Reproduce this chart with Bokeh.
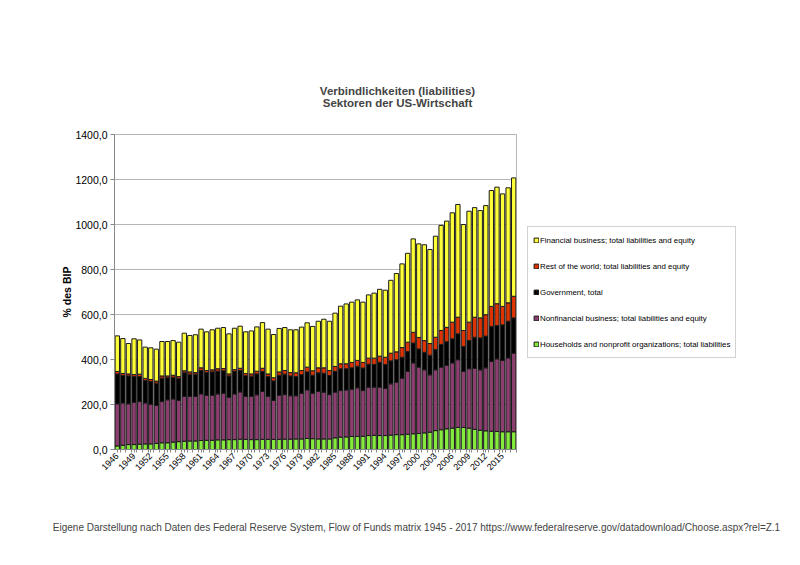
from bokeh.plotting import figure
from bokeh.models import (Range1d, FixedTicker, CustomJSTickFormatter, Legend,
                          LegendItem, Label, ColumnDataSource)
from bokeh.embed import file_html
from bokeh.resources import INLINE
import math

years = list(range(1946, 2018))

households = [16, 19, 22, 22, 24, 25, 25, 27, 30, 30, 33, 35, 37, 38, 38, 40, 41, 41, 43, 43,
              44, 44, 46, 45, 44, 44, 45, 45, 45, 45, 46, 46, 47, 47, 49, 48, 47, 47, 47, 52,
              55, 56, 58, 58, 59, 62, 63, 62, 62, 64, 66, 66, 68, 70, 71, 74, 77, 84, 88, 92,
              95, 98, 98, 95, 90, 86, 83, 81, 80, 79, 79, 79]
nonfinancial = [187, 188, 181, 188, 189, 182, 176, 169, 183, 191, 192, 183, 199, 198, 198, 207, 199, 199, 204, 207,
                188, 203, 210, 191, 192, 199, 213, 191, 173, 195, 198, 193, 192, 203, 216, 202, 211, 208, 197, 203,
                207, 209, 210, 216, 203, 215, 214, 215, 209, 228, 233, 251, 279, 315, 295, 280, 255, 270, 278, 282,
                290, 301, 249, 264, 271, 268, 280, 310, 323, 317, 328, 349]
government = [133, 122, 124, 114, 111, 100, 101, 99, 104, 98, 96, 98, 105, 99, 99, 104, 102, 105, 101, 100,
              95, 100, 95, 92, 90, 93, 89, 88, 87, 90, 91, 88, 85, 83, 80, 80, 83, 84, 85, 92,
              97, 94, 95, 96, 100, 102, 101, 110, 107, 102, 100, 93, 88, 88, 81, 78, 87, 90, 101, 105,
              107, 115, 111, 125, 138, 142, 141, 156, 148, 158, 163, 157]
rest_of_world = [11, 9, 9, 9, 11, 9, 9, 9, 10, 8, 9, 8, 9, 10, 7, 12, 9, 9, 11, 10,
                 9, 8, 10, 10, 10, 12, 14, 12, 14, 15, 16, 15, 17, 18, 21, 20, 22, 24, 22, 22,
                 22, 22, 24, 26, 25, 27, 28, 28, 32, 34, 35, 43, 42, 48, 51, 52, 52, 55, 62, 64,
                 74, 74, 71, 82, 89, 89, 95, 89, 97, 82, 82, 96]
financial = [158, 155, 135, 159, 152, 139, 141, 142, 153, 153, 154, 153, 167, 162, 168, 172, 172, 178, 180, 182,
             178, 184, 187, 185, 191, 197, 203, 199, 192, 193, 191, 190, 191, 193, 197, 197, 207, 216, 219, 237,
             256, 266, 268, 269, 268, 281, 289, 297, 298, 324, 348, 372, 395, 415, 416, 426, 418, 449, 467, 472,
             486, 501, 471, 493, 487, 477, 485, 515, 518, 500, 511, 526]

keys = ["households", "nonfinancial", "government", "rest_of_world", "financial"]
labels = ["Households and nonprofit organizations; total liabilities",
          "Nonfinancial business; total liabilities and equity",
          "Government, total",
          "Rest of the world; total liabilities and equity",
          "Financial business; total liabilities and equity"]
colors = ["#84ea3b", "#8b3e6f", "#000000", "#dd3300", "#ffff38"]
tick_years = years[::3]

src = ColumnDataSource(dict(year=years, households=households, nonfinancial=nonfinancial,
                            government=government, rest_of_world=rest_of_world,
                            financial=financial))

FONT = "Liberation Sans"

# layout constants (pixels)
FRAME_LEFT, FRAME_TOP, FRAME_W, FRAME_H = 114, 134, 402, 315
Y_MAX = 1400


def py_to_y(py):
    """canvas pixel row -> y data value (for placing texts outside the frame)"""
    return (FRAME_TOP + FRAME_H - py) * Y_MAX / FRAME_H


p = figure(frame_width=FRAME_W, frame_height=FRAME_H,
           x_range=Range1d(1945.5, 2017.5), y_range=Range1d(0, Y_MAX),
           output_backend="svg", toolbar_location=None,
           min_border_left=FRAME_LEFT, min_border_right=268,
           min_border_top=FRAME_TOP, min_border_bottom=100,
           background_fill_color="white", border_fill_color="white")
p.title = None

renderers = p.vbar_stack(keys, x="year", width=0.78, source=src,
                         fill_color=colors, line_color="#1a1a1a", line_width=1)

# axes
p.xgrid.visible = False
p.ygrid.grid_line_color = "#b5b5b5"
p.ygrid.grid_line_width = 1
p.outline_line_color = "#b5b5b5"

p.yaxis.ticker = FixedTicker(ticks=list(range(0, Y_MAX + 1, 200)))
p.yaxis.formatter = CustomJSTickFormatter(code="return tick.toFixed(1).replace('.', ',');")
p.yaxis.major_label_text_font = FONT
p.yaxis.major_label_text_font_size = "10.5px"
p.yaxis.major_label_text_color = "#000000"
p.yaxis.axis_line_color = "#888888"
p.yaxis.major_tick_line_color = "#888888"
p.yaxis.major_tick_out = 4
p.yaxis.major_tick_in = 0
p.yaxis.minor_tick_line_color = None
p.yaxis.major_label_standoff = 3
p.yaxis.axis_label = "% des BIP"
p.yaxis.axis_label_text_font = FONT
p.yaxis.axis_label_text_font_style = "bold"
p.yaxis.axis_label_text_font_size = "10.5px"
p.yaxis.axis_label_text_color = "#000000"
p.yaxis.axis_label_standoff = -1

p.xaxis.ticker = FixedTicker(ticks=tick_years, minor_ticks=[y + 0.5 for y in years])
p.xaxis.major_label_orientation = math.pi / 4
p.xaxis.major_label_text_font = FONT
p.xaxis.major_label_text_font_size = "9px"
p.xaxis.major_label_text_color = "#000000"
p.xaxis.axis_line_color = "#888888"
p.xaxis.major_tick_line_color = "#888888"
p.xaxis.minor_tick_line_color = "#888888"
p.xaxis.major_tick_out = 3
p.xaxis.major_tick_in = 0
p.xaxis.minor_tick_out = 3
p.xaxis.minor_tick_in = 0
p.xaxis.major_label_standoff = 2

# legend (in right side panel)
items = [LegendItem(label=lbl, renderers=[r]) for lbl, r in zip(labels, renderers)][::-1]
legend = Legend(items=items, location=(11, 91), orientation="vertical",
                border_line_color="#a6a6a6", border_line_width=1,
                background_fill_color="white", background_fill_alpha=1,
                label_text_font=FONT, label_text_font_size="7.9px",
                label_text_color="#000000",
                glyph_width=6, glyph_height=6, label_height=16, label_standoff=1,
                spacing=10, padding=5, margin=0)
p.add_layout(legend, "right")

# titles and footer (x: screen px from frame left, y: via the y scale)
p.add_layout(Label(x=283, y=py_to_y(90), x_units="screen", y_units="data",
                   text="Verbindlichkeiten (liabilities)", text_align="center",
                   text_baseline="alphabetic", text_font=FONT,
                   text_font_style="bold", text_font_size="11.5px"), "above")
p.add_layout(Label(x=283, y=py_to_y(102), x_units="screen", y_units="data",
                   text="Sektoren der US-Wirtschaft", text_align="center",
                   text_baseline="alphabetic", text_font=FONT,
                   text_font_style="bold", text_font_size="11.5px"), "above")
p.add_layout(Label(x=302, y=py_to_y(527), x_units="screen", y_units="data",
                   text="Eigene Darstellung nach Daten des Federal Reserve System, Flow of Funds matrix 1945 - 2017 https://www.federalreserve.gov/datadownload/Choose.aspx?rel=Z.1",
                   text_align="center", text_baseline="alphabetic", text_font=FONT,
                   text_font_size="10px"), "above")

open("out.html", "w").write(file_html(p, INLINE))
